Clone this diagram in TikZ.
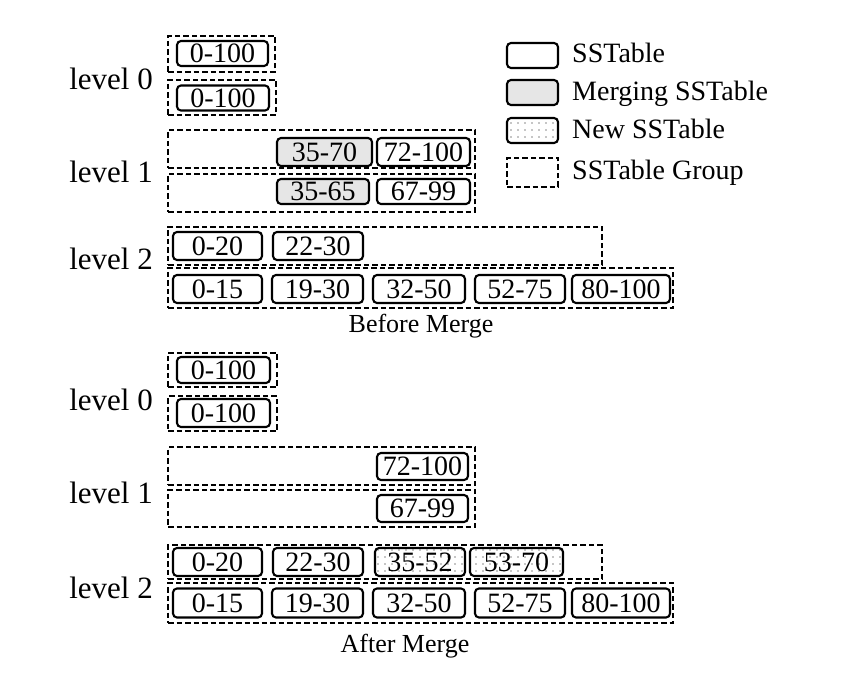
\documentclass[tikz,border=0pt]{standalone}
\usepackage{fontspec}
\setmainfont{Liberation Serif}
\usetikzlibrary{patterns.meta}
\definecolor{mergegray}{HTML}{E6E6E6}
\definecolor{dotgray}{HTML}{8C8C8C}
\tikzset{
  sst/.style={draw=black, line width=2.1pt, rounded corners=4pt, inner sep=0pt,
    font=\fontsize{28}{32}\selectfont, minimum height=28pt},
  mrg/.style={sst, fill=mergegray},
  newsst/.style={sst, pattern={Dots[distance=7pt, radius=0.9pt]}, pattern color=dotgray},
  grp/.style={draw=black, line width=2.2pt, dash pattern=on 5.5pt off 3pt, inner sep=0pt},
  lvl/.style={anchor=base east, inner sep=0pt, font=\fontsize{31}{36}\selectfont},
  captxt/.style={anchor=base, inner sep=0pt, font=\fontsize{26}{31}\selectfont},
  leg/.style={anchor=base west, inner sep=0pt, font=\fontsize{28}{33}\selectfont}
}
\begin{document}
\begin{tikzpicture}[x=1pt,y=-1pt]
\useasboundingbox (0,0) rectangle (849,676);
% ---------------- Before merge ----------------
\node[lvl] (bl0) at (153,90) {level 0};
\node[grp, minimum width=107pt, minimum height=36pt] (bg0a) at (221.5,54) {};
\node[sst, minimum width=91pt, minimum height=25pt] (bb0a) at (222.5,53.5) {0-100};
\node[grp, minimum width=108pt, minimum height=35pt] (bg0b) at (222,97.5) {};
\node[sst, minimum width=92pt, minimum height=25pt] (bb0b) at (223,98) {0-100};

\node[lvl] (bl1) at (153,183) {level 1};
\node[grp, minimum width=307pt, minimum height=38pt] (bg1a) at (321.5,149) {};
\node[mrg, minimum width=95pt] (bb1a1) at (324.5,152) {35-70};
\node[sst, minimum width=93pt] (bb1a2) at (423.5,152) {72-100};
\node[grp, minimum width=307pt, minimum height=38pt] (bg1b) at (321.5,193) {};
\node[mrg, minimum width=92pt, minimum height=25pt] (bb1b1) at (323,191.5) {35-65};
\node[sst, minimum width=93pt, minimum height=25pt] (bb1b2) at (423.5,191.5) {67-99};

\node[lvl] (bl2) at (153,270) {level 2};
\node[grp, minimum width=434pt, minimum height=38pt] (bg2a) at (385,246) {};
\node[sst, minimum width=89pt] (bb2a1) at (217.5,246) {0-20};
\node[sst, minimum width=90pt] (bb2a2) at (318,246) {22-30};
\node[grp, minimum width=505pt, minimum height=40pt] (bg2b) at (420.5,288) {};
\node[sst, minimum width=89pt] (bb2b1) at (217.5,289) {0-15};
\node[sst, minimum width=91pt] (bb2b2) at (317.5,289) {19-30};
\node[sst, minimum width=92pt] (bb2b3) at (419,289) {32-50};
\node[sst, minimum width=90pt] (bb2b4) at (520,289) {52-75};
\node[sst, minimum width=98pt] (bb2b5) at (621,289) {80-100};
\node[captxt] (bcap) at (421,333) {Before Merge};

% ---------------- After merge ----------------
\node[lvl] (al0) at (153,410) {level 0};
\node[grp, minimum width=109pt, minimum height=34pt] (ag0a) at (222.5,370) {};
\node[sst, minimum width=93pt, minimum height=26pt] (ab0a) at (223.5,370) {0-100};
\node[grp, minimum width=109pt, minimum height=35pt] (ag0b) at (222.5,413.5) {};
\node[sst, minimum width=93pt, minimum height=28pt] (ab0b) at (223.5,413) {0-100};

\node[lvl] (al1) at (153,503) {level 1};
\node[grp, minimum width=307pt, minimum height=38pt] (ag1a) at (321.5,466) {};
\node[sst, minimum width=91pt, minimum height=27pt] (ab1a) at (422.5,466.5) {72-100};
\node[grp, minimum width=307pt, minimum height=37pt] (ag1b) at (321.5,508.5) {};
\node[sst, minimum width=91pt, minimum height=27pt] (ab1b) at (422.5,508.5) {67-99};

\node[lvl] (al2) at (153,598) {level 2};
\node[grp, minimum width=434pt, minimum height=34pt] (ag2a) at (385,562) {};
\node[sst, minimum width=89pt] (ab2a1) at (217.5,562) {0-20};
\node[sst, minimum width=90pt] (ab2a2) at (318,562) {22-30};
\node[newsst, minimum width=90pt] (ab2a3) at (420,562) {35-52};
\node[newsst, minimum width=93pt] (ab2a4) at (516.5,562) {53-70};
\node[grp, minimum width=505pt, minimum height=40pt] (ag2b) at (420.5,603) {};
\node[sst, minimum width=89pt, minimum height=29pt] (ab2b1) at (217.5,603) {0-15};
\node[sst, minimum width=91pt, minimum height=29pt] (ab2b2) at (317.5,603) {19-30};
\node[sst, minimum width=92pt, minimum height=29pt] (ab2b3) at (419,603) {32-50};
\node[sst, minimum width=90pt, minimum height=29pt] (ab2b4) at (520,603) {52-75};
\node[sst, minimum width=98pt, minimum height=29pt] (ab2b5) at (621,603) {80-100};
\node[captxt] (acap) at (405,652) {After Merge};

% ---------------- Legend ----------------
\node[sst, minimum width=51pt, minimum height=25pt] (lg1) at (532.5,55.5) {};
\node[leg] (lt1) at (572,63) {SSTable};
\node[mrg, minimum width=51pt, minimum height=25pt] (lg2) at (532.5,92.5) {};
\node[leg] (lt2) at (572,101) {Merging SSTable};
\node[newsst, minimum width=51pt, minimum height=25pt] (lg3) at (532.5,130.5) {};
\node[leg] (lt3) at (572,139) {New SSTable};
\node[grp, minimum width=51pt, minimum height=29pt] (lg4) at (532.5,172.5) {};
\node[leg] (lt4) at (572,180) {SSTable Group};
\end{tikzpicture}
\end{document}
